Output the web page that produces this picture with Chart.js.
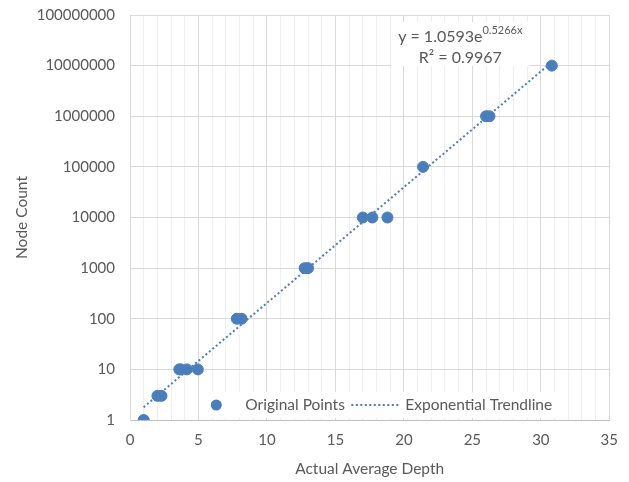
<!DOCTYPE html>
<html>
<head>
<meta charset="utf-8">
<script src="https://cdn.jsdelivr.net/npm/chart.js@4/dist/chart.umd.min.js"></script>
<style>
  html, body { margin: 0; padding: 0; background: #fff; }
  #wrap { width: 629px; height: 482px; }
</style>
</head>
<body>
<div id="wrap"><canvas id="grafico"></canvas></div>
<script>
// values
const depths = [1.0, 2.0, 2.3, 3.6, 3.7, 4.15, 4.95, 7.8, 8.15, 12.75, 13.0, 17.0, 17.7, 18.8, 21.4, 26.0, 26.25, 30.8];
const nodeCounts = [1, 3, 3, 10, 10, 10, 10, 100, 100, 1000, 1000, 10000, 10000, 10000, 100000, 1000000, 1000000, 10000000];
const trendX = [1.0, 30.8];
const trendY = [1.79, 11700000];
const yTicks = [1, 10, 100, 1000, 10000, 100000, 1000000, 10000000, 100000000];
const equationText = 'y = 1.0593e';
const equationExp = '0.5266x';
const r2Text = 'R² = 0.9967';

const blue = '#4a7ebb';
const textGrey = '#595959';
const font = 'Lato, "Open Sans", sans-serif';

const overlay = {
    id: 'overlay',
    afterDraw(chart) {
        const c = chart.ctx;
        const a = chart.chartArea;
        c.save();
        // equation box
        const bx = a.right - 218, by = a.top + 7;
        c.fillStyle = '#fff';
        c.fillRect(bx, by, 138, 44);
        c.fillStyle = textGrey;
        c.textBaseline = 'alphabetic';
        c.textAlign = 'left';
        c.font = '16px ' + font;
        const w1 = c.measureText(equationText).width;
        c.font = '11px ' + font;
        const w2 = c.measureText(equationExp).width;
        const sx = bx + 69 - (w1 + w2) / 2;
        c.font = '16px ' + font;
        c.fillText(equationText, sx, by + 20);
        c.font = '11px ' + font;
        c.fillText(equationExp, sx + w1, by + 12);
        c.font = '16px ' + font;
        c.textAlign = 'center';
        c.fillText(r2Text, bx + 69, by + 41);

        // legend box
        const lx = a.right - 410, ly = a.bottom - 28;
        c.fillStyle = '#fff';
        c.fillRect(lx, ly, 367, 26);
        const cy = ly + 13;
        c.fillStyle = blue;
        c.beginPath();
        c.arc(lx + 17, cy, 5.5, 0, Math.PI * 2);
        c.fill();
        c.fillStyle = textGrey;
        c.textAlign = 'left';
        c.textBaseline = 'middle';
        c.font = '15.5px ' + font;
        c.fillText(chart.data.datasets[0].label, lx + 46, cy);
        c.strokeStyle = blue;
        c.lineWidth = 2;
        c.setLineDash([2, 2.5]);
        c.beginPath();
        c.moveTo(lx + 152, cy);
        c.lineTo(lx + 201, cy);
        c.stroke();
        c.setLineDash([]);
        c.fillText(chart.data.datasets[1].label, lx + 206, cy);
        c.restore();
    }
};

const ctx = document.getElementById('grafico').getContext('2d');
const chart = new Chart(ctx, {
    type: 'scatter',
    data: {
        datasets: [{
            label: 'Original Points',
            data: depths.map((d, i) => ({ x: d, y: nodeCounts[i] })),
            backgroundColor: blue,
            borderColor: blue,
            pointRadius: 5.5,
            pointHoverRadius: 5.5,
            order: 1
        }, {
            label: 'Exponential Trendline',
            data: trendX.map((d, i) => ({ x: d, y: trendY[i] })),
            showLine: true,
            borderColor: blue,
            borderWidth: 2,
            borderDash: [2, 2.5],
            pointRadius: 0,
            fill: false,
            order: 2
        }]
    },
    options: {
        responsive: true,
        maintainAspectRatio: false,
        animation: false,
        layout: { padding: { left: 13, right: 19, top: 15, bottom: 4 } },
        plugins: {
            legend: { display: false },
            tooltip: { enabled: false }
        },
        scales: {
            x: {
                type: 'linear',
                min: 0,
                max: 35,
                afterFit: s => { s.height = 58; },
                ticks: {
                    stepSize: 1,
                    autoSkip: false,
                    maxRotation: 0,
                    padding: 11,
                    color: textGrey,
                    font: { family: font, size: 15 },
                    callback: v => (v % 5 === 0 ? String(v) : '')
                },
                grid: {
                    drawTicks: false,
                    color: c => (c.tick && c.tick.value % 5 === 0 ? '#d9d9d9' : '#efefef'),
                    lineWidth: 1
                },
                border: { display: true, color: '#bfbfbf' },
                title: {
                    display: true,
                    text: 'Actual Average Depth',
                    color: textGrey,
                    font: { family: font, size: 15.5 },
                    padding: { top: 8, bottom: 0 }
                }
            },
            y: {
                type: 'logarithmic',
                min: 1,
                max: 100000000,
                afterBuildTicks: s => { s.ticks = yTicks.map(v => ({ value: v })); },
                afterFit: s => { s.width = 117; s.paddingTop = 0; s.paddingBottom = 0; },
                ticks: {
                    padding: 15,
                    color: textGrey,
                    font: { family: font, size: 15 },
                    callback: v => String(v)
                },
                grid: { drawTicks: false, color: '#d9d9d9' },
                border: { display: true, color: '#d9d9d9' },
                title: {
                    display: true,
                    text: 'Node Count',
                    color: textGrey,
                    font: { family: font, size: 15.5 },
                    padding: { top: 0, bottom: 0 }
                }
            }
        }
    },
    plugins: [overlay]
});
</script>
</body>
</html>
